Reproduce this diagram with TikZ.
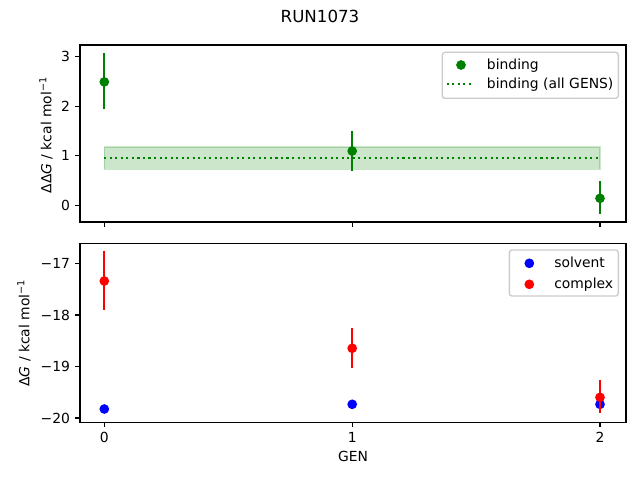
\documentclass[tikz,border=0pt]{standalone}
\usepackage{fontspec}
\setmainfont{DejaVu Sans}
\definecolor{mgreen}{RGB}{0,128,0}
\definecolor{mblue}{RGB}{0,0,255}
\definecolor{mred}{RGB}{255,0,0}
\definecolor{lgray}{RGB}{204,204,204}
\begin{document}
\begin{tikzpicture}[x=0.72pt,y=-0.72pt,
  dot/.style={circle,fill,inner sep=0pt,minimum size=7pt},
  gdot/.style={dot,fill=mgreen},
  bdot/.style={dot,fill=mblue},
  rdot/.style={dot,fill=mred},
  ebar/.style={line width=1.5pt},
  frame/.style={line width=0.8pt},
  tk/.style={line width=0.8pt},
  ylab/.style={anchor=east,inner sep=0pt,font=\fontsize{10}{12}\selectfont},
  xlab/.style={anchor=north,inner sep=0pt,font=\fontsize{10}{12}\selectfont},
  leg/.style={anchor=base west,inner sep=0pt,font=\fontsize{10}{12}\selectfont},
  legbox/.style={draw=lgray,fill=white,fill opacity=0.8,line width=1pt,rounded corners=2pt}]
\useasboundingbox (0,0) rectangle (640,480);
% title
\node[font=\fontsize{12}{14}\selectfont,anchor=base,inner sep=0pt] (title) at (320,22.3) {RUN1073};

% top axes
\fill[mgreen,fill opacity=0.2] (104.3,147) rectangle (600,169.3);
\draw[mgreen,opacity=0.2,line width=1pt] (104.3,147) rectangle (600,169.3);
\draw[mgreen,line width=1.5pt,dash pattern=on 1.5pt off 2.475pt] (104.3,157.7) -- (600,157.7);
\draw[ebar,mgreen] (104.3,53.3) -- (104.3,109.3);
\draw[ebar,mgreen] (352.2,131) -- (352.2,170.7);
\draw[ebar,mgreen] (600,181) -- (600,214.3);
\node[gdot] (g0) at (104.3,81.9) {};
\node[gdot] (g1) at (352.2,151) {};
\node[gdot] (g2) at (600,198.3) {};
\draw[frame] (80,45) rectangle (626,222);
\draw[tk] (75.1,56.7) -- (80,56.7);
\draw[tk] (75.1,106.2) -- (80,106.2);
\draw[tk] (75.1,155.75) -- (80,155.75);
\draw[tk] (75.1,205.3) -- (80,205.3);
\draw[tk] (104.3,222) -- (104.3,226.9);
\draw[tk] (352.2,222) -- (352.2,226.9);
\draw[tk] (600,222) -- (600,226.9);
\node[ylab] (t3) at (70.3,56.7) {3};
\node[ylab] (t2) at (70.3,106.2) {2};
\node[ylab] (t1) at (70.3,155.75) {1};
\node[ylab] (t0) at (70.3,205.3) {0};
\node[rotate=90,font=\fontsize{10}{12}\selectfont] (ylabtop) at (46,135)
  {ΔΔ\textit{G} / kcal mol\textsuperscript{−1}};
% top legend
\draw[legbox] (442.3,52.3) rectangle (618.3,98.3);
\node[gdot] (legg) at (461,65) {};
\draw[mgreen,line width=1.5pt,dash pattern=on 1.5pt off 2.475pt] (446.7,84) -- (474.3,84);
\node[leg] (legbind) at (486.7,69.3) {binding};
\node[leg] (legall) at (486.7,88.6) {binding (all GENS)};

% bottom axes
\draw[ebar,mred] (104.3,250.7) -- (104.3,309.7);
\draw[ebar,mred] (352.2,327.7) -- (352.2,367.7);
\node[bdot] (s0) at (104.3,409) {};
\node[bdot] (s1) at (352.2,404.3) {};
\node[bdot] (s2) at (600,404.3) {};
\node[rdot] (c0) at (104.3,281) {};
\node[rdot] (c1) at (352.2,348.3) {};
\draw[ebar,mred] (600,380) -- (600,413.3);
\node[rdot] (c2) at (600,397.3) {};
\draw[frame] (80,243.3) rectangle (626,422.3);
\draw[tk] (75.1,263.3) -- (80,263.3);
\draw[tk] (75.1,315) -- (80,315);
\draw[tk] (75.1,366.4) -- (80,366.4);
\draw[tk] (75.1,418) -- (80,418);
\draw[tk] (104.3,422.3) -- (104.3,427.2);
\draw[tk] (352.2,422.3) -- (352.2,427.2);
\draw[tk] (600,422.3) -- (600,427.2);
\node[ylab] (m17) at (70.3,263.3) {−17};
\node[ylab] (m18) at (70.3,315) {−18};
\node[ylab] (m19) at (70.3,366.4) {−19};
\node[ylab] (m20) at (70.3,418) {−20};
\node[xlab] (x0) at (104.3,432) {0};
\node[xlab] (x1) at (352.2,432) {1};
\node[xlab] (x2) at (600,432) {2};
\node[anchor=base,inner sep=0pt,font=\fontsize{10}{12}\selectfont] (xlabel) at (353,461.5) {GEN};
\node[rotate=90,font=\fontsize{10}{12}\selectfont] (ylabbot) at (24,333)
  {Δ\textit{G} / kcal mol\textsuperscript{−1}};
% bottom legend
\draw[legbox] (509.3,250) rectangle (618.3,296);
\node[bdot] (legs) at (529.3,263.3) {};
\node[rdot] (legc) at (529.3,284.3) {};
\node[leg] (legsolv) at (554,267.3) {solvent};
\node[leg] (legcomp) at (554,288.3) {complex};
\end{tikzpicture}
\end{document}
